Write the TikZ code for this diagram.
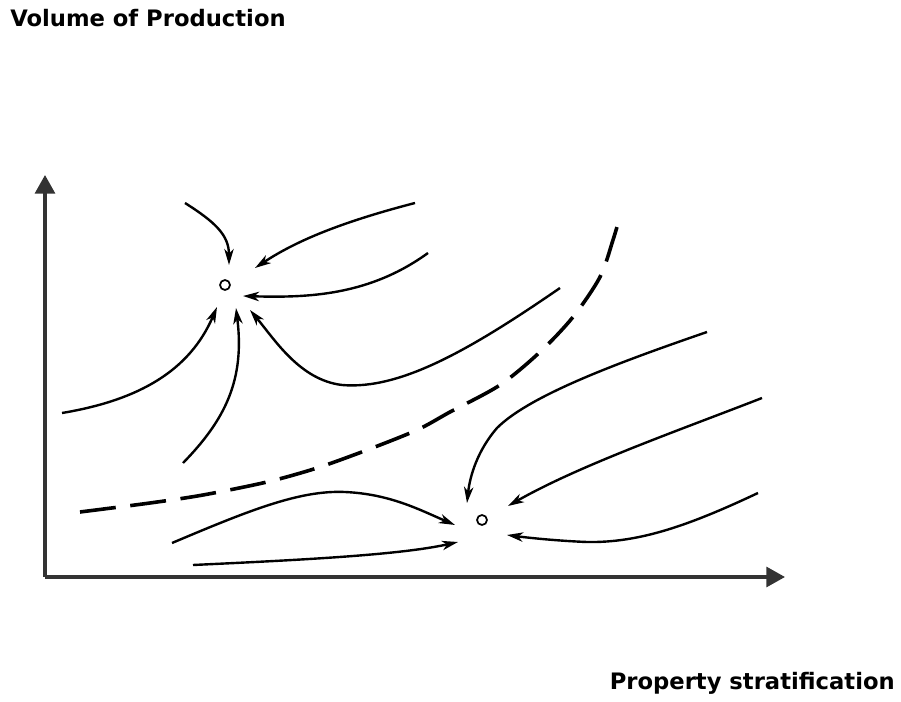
\documentclass[tikz,border=0pt]{standalone}
\usepackage{fontspec}
\setmainfont{DejaVu Sans}
\usetikzlibrary{arrows.meta}
\tikzset{
  axisline/.style={line width=2.3pt, draw=black!80, -{Triangle[length=14pt,width=15pt]}},
  flow/.style={line width=1.8pt, -{Stealth[length=12pt,width=7pt,inset=3.5pt]}},
  sep/.style={line width=2.7pt, dash pattern=on 27pt off 11pt},
  fixpt/.style={circle, draw, line width=1.3pt, inner sep=0pt, minimum size=7.5pt},
  lbl/.style={font=\fontsize{17pt}{20pt}\selectfont\bfseries, inner sep=0pt}
}
\begin{document}
\begin{tikzpicture}[x=0.75pt, y=-0.75pt]
\useasboundingbox (0,0) rectangle (901,702);
% labels
\node[lbl, anchor=base west] (ylab) at (10,27) {Volume of Production};
\node[lbl, anchor=base east] (xlab) at (895,690) {Property stratification};
% axes
\coordinate (O) at (45,577);
\coordinate (ytip) at (45,175);
\coordinate (xtip) at (785,577);
\draw[axisline] (O) -- (ytip);
\draw[axisline] (O) -- (xtip);
% fixed points
\node[fixpt] (A) at (225,285) {};
\node[fixpt] (B) at (482,520) {};
% start and tip coordinates
\coordinate (s1) at (185,203);  \coordinate (t1) at (229,265);
\coordinate (s2) at (415,203);  \coordinate (t2) at (255,268);
\coordinate (s3) at (428,253);  \coordinate (t3) at (243,296);
\coordinate (s4) at (560,288);  \coordinate (t4) at (250,310);
\coordinate (s5) at (62,413);   \coordinate (t5) at (217,307);
\coordinate (s6) at (183,463);  \coordinate (t6) at (236,308);
\coordinate (s7) at (707,332);  \coordinate (t7) at (467,503);
\coordinate (s8) at (762,398);  \coordinate (t8) at (508,506);
\coordinate (s9) at (758,493);  \coordinate (t9) at (507,535);
\coordinate (s10) at (172,543); \coordinate (t10) at (455,525);
\coordinate (s11) at (193,565); \coordinate (t11) at (458,542);
% flows to A
\draw[flow] (s1) .. controls (215,222) and (229,235) .. (t1);
\draw[flow] (s2) .. controls (330,225) and (290,245) .. (t2);
\draw[flow] (s3) .. controls (370,295) and (310,298) .. (t3);
\draw[flow] (s4) .. controls (470,350) and (400,390) .. (342,385) .. controls (300,380) and (275,340) .. (t4);
\draw[flow] (s5) .. controls (140,400) and (190,370) .. (t5);
\draw[flow] (s6) .. controls (225,420) and (245,380) .. (t6);
% flows to B
\draw[flow] (s7) .. controls (620,362) and (530,395) .. (497,428) .. controls (478,450) and (470,475) .. (t7);
\draw[flow] (s8) .. controls (680,430) and (580,465) .. (t8);
\draw[flow] (s9) .. controls (690,525) and (640,543) .. (587,542) .. controls (560,541) and (530,538) .. (t9);
\draw[flow] (s10) .. controls (250,510) and (300,490) .. (345,492) .. controls (390,494) and (420,510) .. (t10);
\draw[flow] (s11) .. controls (300,560) and (400,555) .. (t11);
% separatrix
\draw[sep] plot[smooth] coordinates {(80,512) (150,503) (203,495) (267,482) (317,468) (367,450) (417,430) (450,412) (500,385) (540,352) (573,317) (600,277) (613,240) (621,213)};
\end{tikzpicture}
\end{document}
